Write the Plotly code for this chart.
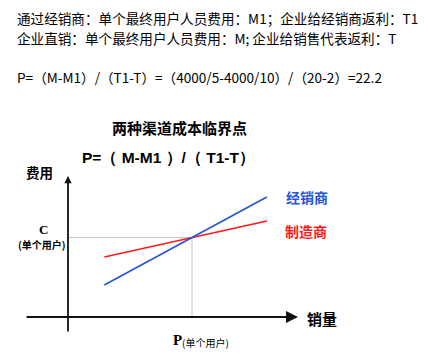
import plotly.graph_objects as go

# ---- data (schematic values) ----
volume = [6.5, 35.6]          # sales volume range shown for the lines
dealer_cost = [32, 120]       # 经销商 cost per user (blue)
maker_cost = [60, 96]         # 制造商 cost per user (red)
P_value = 22.2                # break-even volume
C_value = 79.5                # cost at break-even

header_lines = [
    "通过经销商：单个最终用户人员费用：M1；企业给经销商返利：T1",
    "企业直销：单个最终用户人员费用：M; 企业给销售代表返利：T",
    "P=（M-M1）/（T1-T）=（4000/5-4000/10）/（20-2）=22.2",
]
chart_title = "两种渠道成本临界点"
formula = "P=（ M-M1 ）/（ T1-T）"

W, H = 428, 355
X0, Y0 = 68, 317          # pixel of the origin
SX = (192 - 68) / P_value  # px per volume unit


def px(x):
    return x / W


def py(y):
    return 1 - y / H


fig = go.Figure()
gray = "#c4c4c4"
fig.add_trace(go.Scatter(x=[0, P_value, P_value], y=[C_value, C_value, 0], mode="lines",
                         line=dict(color=gray, width=1), hoverinfo="skip", showlegend=False))
fig.add_trace(go.Scatter(x=volume, y=maker_cost, mode="lines",
                         line=dict(color="#ff1a1a", width=1.6), showlegend=False))
fig.add_trace(go.Scatter(x=volume, y=dealer_cost, mode="lines",
                         line=dict(color="#2255dd", width=1.6), showlegend=False))

xr = [(0 - X0) / SX, (W - X0) / SX]
yr = [Y0 - H, Y0]

fig.update_layout(
    width=W, height=H, margin=dict(l=0, r=0, t=0, b=0),
    plot_bgcolor="white", paper_bgcolor="white",
    xaxis=dict(range=xr, visible=False, fixedrange=True),
    yaxis=dict(range=yr, visible=False, fixedrange=True),
    font=dict(family="Noto Sans CJK SC", color="black"),
)

# axes lines with arrows
fig.add_annotation(x=(298 - X0) / SX, y=0, ax=(25 - X0) / SX, ay=0, axref="x", ayref="y",
                   xref="x", yref="y", text="", showarrow=True, arrowhead=2, arrowsize=1.2,
                   arrowwidth=2, arrowcolor="#111")
fig.add_annotation(x=0, y=Y0 - 176, ax=0, ay=Y0 - 333, axref="x", ayref="y",
                   xref="x", yref="y", text="", showarrow=True, arrowhead=2, arrowsize=0.8,
                   arrowwidth=1.8, arrowcolor="#111")


def txt(x, y, s, size, color="black", bold=False, family="Noto Sans CJK SC", xanchor="left"):
    if bold:
        s = "<b>" + s + "</b>"
    fig.add_annotation(x=px(x), y=py(y), xref="paper", yref="paper", text=s, showarrow=False,
                       xanchor=xanchor, yanchor="middle",
                       font=dict(size=size, color=color, family=family))


# header text
txt(15, 18, header_lines[0], 13.6)
txt(15, 38, header_lines[1], 13.6)
txt(15, 77, header_lines[2], 13.6)

txt(179, 128, chart_title, 15, bold=True, xanchor="center")
txt(168, 158, formula, 15.5, bold=True, family="Arial, Liberation Sans", xanchor="center")

txt(39, 172, "费用", 13.5, bold=True, xanchor="center")
txt(43, 229, "C", 13, bold=True, family="Liberation Serif", xanchor="center")
txt(42, 244, "(单个用户)", 10, bold=True, xanchor="center")
txt(322, 318, "销量", 15, bold=True, xanchor="center")
txt(307, 197, "经销商", 14, color="#2255dd", bold=True, xanchor="center")
txt(306, 231, "制造商", 14, color="#ff1a1a", bold=True, xanchor="center")
txt(171, 340, "<b>P</b>", 15, family="Liberation Serif")
txt(180, 342, "(单个用户)", 10)

fig.write_html("out.html")
